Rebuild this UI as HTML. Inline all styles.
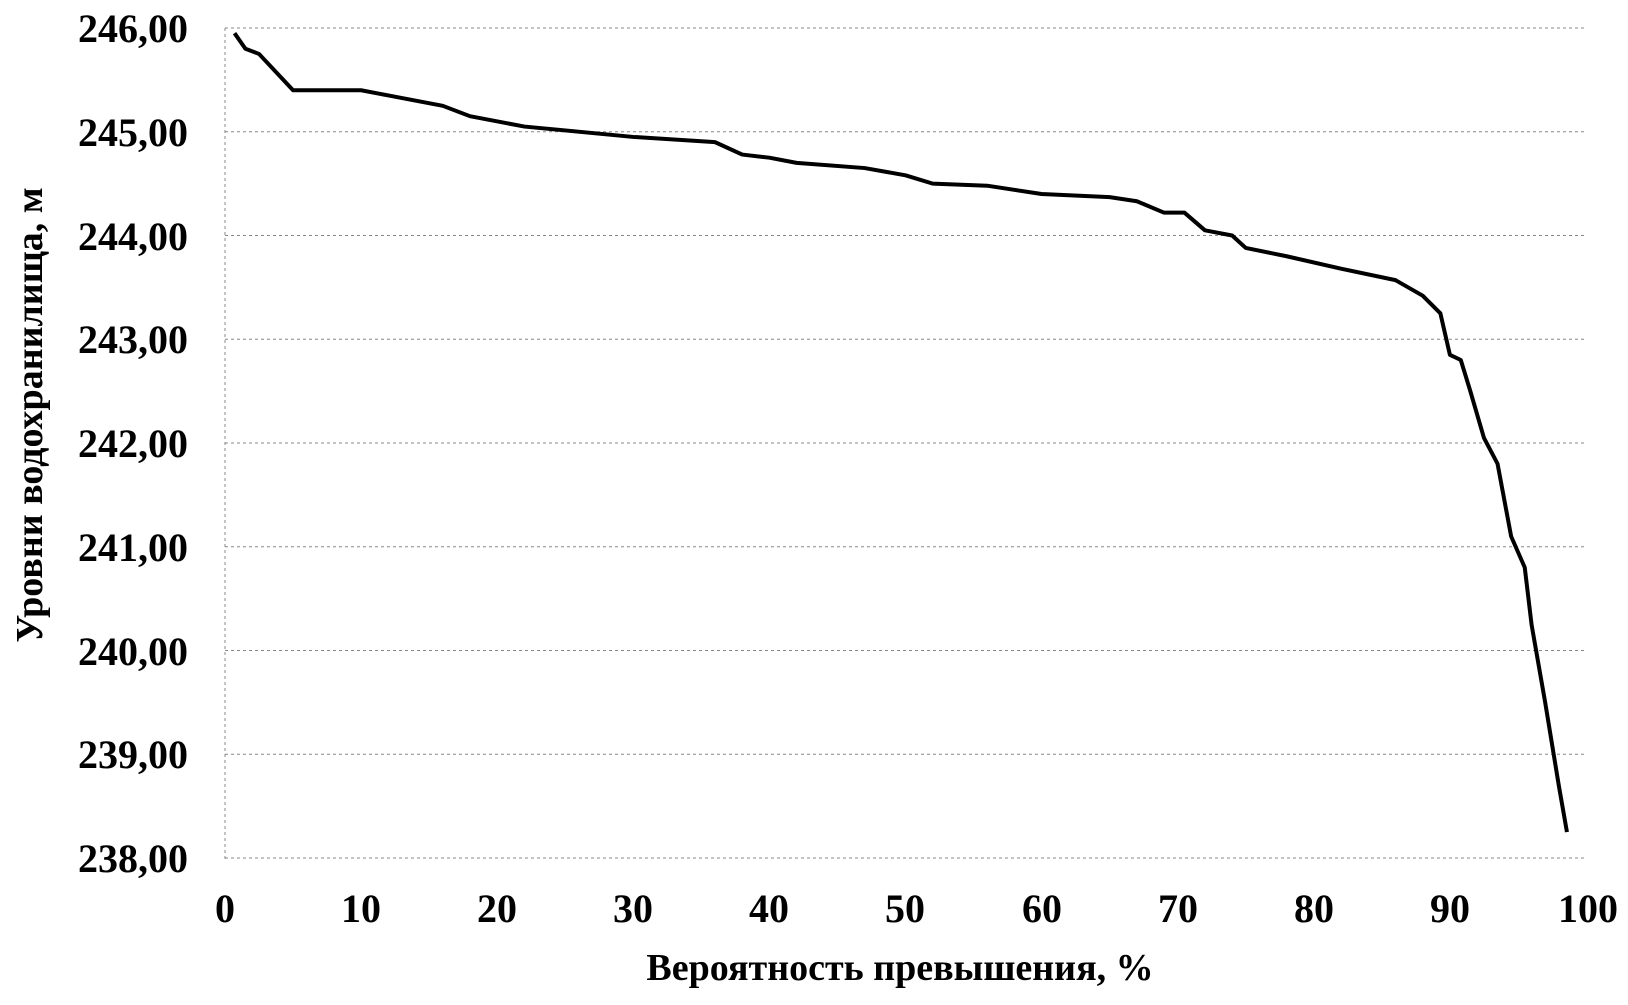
<!DOCTYPE html>
<html><head><meta charset="utf-8"><style>
html,body{margin:0;padding:0;background:#fff;}
svg{display:block;}
text{font-family:"Liberation Serif",serif;fill:#000;font-weight:bold;}
</style></head><body>
<svg width="1628" height="1005" viewBox="0 0 1628 1005">
<g stroke="#888" stroke-width="1" stroke-dasharray="3,3">
<line x1="225" y1="28" x2="1586" y2="28"/>
<line x1="225" y1="131.75" x2="1586" y2="131.75"/>
<line x1="225" y1="235.5" x2="1586" y2="235.5"/>
<line x1="225" y1="339.25" x2="1586" y2="339.25"/>
<line x1="225" y1="443" x2="1586" y2="443"/>
<line x1="225" y1="546.75" x2="1586" y2="546.75"/>
<line x1="225" y1="650.5" x2="1586" y2="650.5"/>
<line x1="225" y1="754.25" x2="1586" y2="754.25"/>
<line x1="225" y1="858" x2="1586" y2="858"/>
<line x1="225" y1="28" x2="225" y2="862"/>
</g>
<g font-size="40" text-anchor="end">
<text x="188" y="42">246,00</text>
<text x="188" y="146">245,00</text>
<text x="188" y="250">244,00</text>
<text x="188" y="353">243,00</text>
<text x="188" y="457">242,00</text>
<text x="188" y="561">241,00</text>
<text x="188" y="665">240,00</text>
<text x="188" y="768">239,00</text>
<text x="188" y="872">238,00</text>
</g>
<g font-size="40" text-anchor="middle">
<text x="225" y="922">0</text>
<text x="361" y="922">10</text>
<text x="497" y="922">20</text>
<text x="633" y="922">30</text>
<text x="769" y="922">40</text>
<text x="905" y="922">50</text>
<text x="1042" y="922">60</text>
<text x="1178" y="922">70</text>
<text x="1314" y="922">80</text>
<text x="1450" y="922">90</text>
<text x="1588" y="922">100</text>
</g>
<text x="900" y="980" font-size="38" text-anchor="middle">Вероятность превышения, %</text>
<text transform="translate(42,415) rotate(-90)" font-size="38" text-anchor="middle">Уровни водохранилища, м</text>
<g transform="translate(225,28) scale(13.61,103.75)">
<polyline fill="none" stroke="#000" stroke-width="4" vector-effect="non-scaling-stroke" stroke-linejoin="round" points="0.7,0.05 1.5,0.2 2.5,0.25 5,0.6 10,0.6 12,0.65 16,0.75 18,0.85 22,0.95 30,1.05 36,1.1 38,1.22 40,1.25 42,1.3 47,1.35 50,1.42 52,1.5 56,1.52 60,1.6 65,1.63 67,1.67 69,1.78 70.5,1.78 72,1.95 74,2 75,2.12 78,2.2 82,2.32 86,2.43 88,2.58 89.3,2.75 90,3.15 90.8,3.2 91.5,3.5 92.5,3.95 93.5,4.2 94.5,4.9 95.5,5.2 96,5.75 97,6.5 98,7.3 98.6,7.75"/>
</g>
</svg>
</body></html>
